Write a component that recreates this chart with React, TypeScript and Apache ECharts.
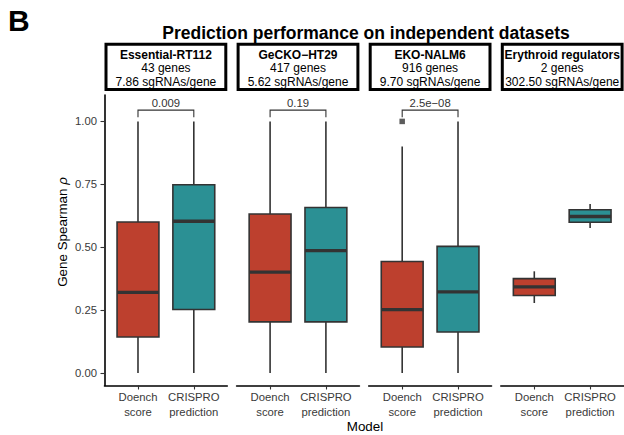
import React, { useEffect, useRef } from "react";
import * as echarts from "echarts";

// Facet strips
const datasetNames = ["Essential-RT112", "GeCKO\u2212HT29", "EKO-NALM6", "Erythroid regulators"];
const geneCounts = [43, 417, 916, 2];
const sgRNAsPerGene = ["7.86", "5.62", "9.70", "302.50"];

// Models on the x axis
const modelLabels = ["Doench\nscore", "CRISPRO\nprediction"];
const boxColors = ["#BD402E", "#2B9094"];

// Box statistics per dataset: [lower whisker, Q1, median, Q3, upper whisker]
const doenchStats = [
  [0.0, 0.143, 0.32, 0.6, 1.0],
  [0.0, 0.203, 0.401, 0.632, 1.0],
  [0.0, 0.103, 0.252, 0.443, 0.9],
  [0.278, 0.308, 0.342, 0.375, 0.404],
];
const crisproStats = [
  [0.0, 0.252, 0.603, 0.748, 1.0],
  [0.0, 0.203, 0.486, 0.658, 1.0],
  [0.0, 0.163, 0.322, 0.503, 1.0],
  [0.576, 0.599, 0.622, 0.649, 0.672],
];
const doenchOutliers = [[], [], [1.0], []];

// Wilcoxon p-values between the two models (none for the last dataset)
const pValues = ["0.009", "0.19", "2.5e\u221208", null];
const bracketTop = 1.045;
const bracketLeg = 1.017;

const yTicks = [0, 0.25, 0.5, 0.75, 1.0];
const xTicks = [0, 1];

const FONT = '"Liberation Sans", Arial, Helvetica, sans-serif';
const INK = "#333333";

const panelLeft0 = 104.5;
const panelStep = 132.1;
const panelWidth = 122.8;
const panelTop = 95;
const panelHeight = 290.5;

function renderBox(_params: any, api: any) {
  const m = api.value(0);
  const low = api.value(1);
  const q1 = api.value(2);
  const med = api.value(3);
  const q3 = api.value(4);
  const high = api.value(5);
  const x = api.coord([m, med])[0];
  const w = api.size([0.75, 0])[0];
  const yOf = (v: number) => api.coord([m, v])[1];
  const lineStyle = { stroke: INK, lineWidth: 1.6 };
  return {
    type: "group",
    children: [
      { type: "line", shape: { x1: x, y1: yOf(high), x2: x, y2: yOf(q3) }, style: lineStyle },
      { type: "line", shape: { x1: x, y1: yOf(q1), x2: x, y2: yOf(low) }, style: lineStyle },
      {
        type: "rect",
        shape: { x: x - w / 2, y: yOf(q3), width: w, height: yOf(q1) - yOf(q3) },
        style: { fill: boxColors[m], stroke: INK, lineWidth: 1.6 },
      },
      {
        type: "line",
        shape: { x1: x - w / 2, y1: yOf(med), x2: x + w / 2, y2: yOf(med) },
        style: { stroke: INK, lineWidth: 3.3 },
      },
    ],
  };
}

function makeBracketRenderer(label: string) {
  return (_params: any, api: any) => {
    const a = api.value(0);
    const b = api.value(1);
    const top = api.value(2);
    const leg = api.value(3);
    const p1 = api.coord([a, leg]);
    const p2 = api.coord([a, top]);
    const p3 = api.coord([b, top]);
    const p4 = api.coord([b, leg]);
    const mid = api.coord([(a + b) / 2, top]);
    return {
      type: "group",
      children: [
        {
          type: "polyline",
          shape: { points: [p1, p2, p3, p4] },
          style: { stroke: INK, lineWidth: 1.1, fill: "none" },
        },
        {
          type: "text",
          x: mid[0],
          y: mid[1] - 7.5,
          style: {
            text: label,
            fontSize: 11.3,
            fontFamily: FONT,
            fill: INK,
            align: "center",
            verticalAlign: "middle",
          },
        },
      ],
    };
  };
}

export default function App() {
  const ref = useRef<HTMLDivElement>(null);

  useEffect(() => {
    if (!ref.current) return;
    const chart = echarts.init(ref.current, null, { renderer: "svg" });

    const grids: any[] = [];
    const xAxes: any[] = [];
    const yAxes: any[] = [];
    const series: any[] = [];
    const graphics: any[] = [];

    datasetNames.forEach((name, i) => {
      const left = panelLeft0 + panelStep * i;
      grids.push({
        left,
        top: panelTop,
        width: panelWidth,
        height: panelHeight,
        containLabel: false,
        outerBoundsMode: "none",
      });
      xAxes.push({
        type: "value",
        gridIndex: i,
        min: -0.6,
        max: 1.6,
        splitLine: { show: false },
        axisLine: { show: true, onZero: false, lineStyle: { color: "#000", width: 1.6 } },
        axisTick: {
          show: true,
          customValues: xTicks,
          length: 4,
          lineStyle: { color: INK, width: 1.1 },
        },
        axisLabel: {
          show: true,
          customValues: xTicks,
          formatter: (v: number) => modelLabels[Math.round(v)],
          fontSize: 11.3,
          lineHeight: 14.4,
          color: "#3a3a3a",
          fontFamily: FONT,
          margin: 4.6,
        },
      });
      yAxes.push({
        type: "value",
        gridIndex: i,
        min: -0.05,
        max: 1.105,
        splitLine: { show: false },
        axisLine: { show: i === 0, onZero: false, lineStyle: { color: "#000", width: 1.6 } },
        axisTick: {
          show: i === 0,
          customValues: yTicks,
          length: 4,
          lineStyle: { color: INK, width: 1.1 },
        },
        axisLabel: {
          show: i === 0,
          customValues: yTicks,
          formatter: (v: number) => v.toFixed(2),
          fontSize: 11.3,
          color: "#3a3a3a",
          fontFamily: FONT,
          margin: 7.5,
        },
      });

      series.push({
        type: "custom",
        name: name,
        xAxisIndex: i,
        yAxisIndex: i,
        renderItem: renderBox,
        clip: false,
        data: [
          [0, ...doenchStats[i]],
          [1, ...crisproStats[i]],
        ],
      });

      if (doenchOutliers[i].length) {
        series.push({
          type: "scatter",
          xAxisIndex: i,
          yAxisIndex: i,
          symbol: "rect",
          symbolSize: 5.5,
          itemStyle: { color: INK },
          data: doenchOutliers[i].map((v) => [0, v]),
        });
      }

      const p = pValues[i];
      if (p) {
        series.push({
          type: "custom",
          xAxisIndex: i,
          yAxisIndex: i,
          clip: false,
          renderItem: makeBracketRenderer(p),
          data: [[0, 1, bracketTop, bracketLeg]],
        });
      }

      // Facet strip
      const cx = left + panelWidth / 2;
      graphics.push({
        type: "rect",
        shape: { x: left + 1.5, y: 44.2, width: panelWidth - 3, height: 45.3 },
        style: { fill: "#fff", stroke: "#000", lineWidth: 3 },
      });
      const lines = [name, `${geneCounts[i]} genes`, `${sgRNAsPerGene[i]} sgRNAs/gene`];
      const ys = [55, 68.3, 81.6];
      lines.forEach((t, k) => {
        graphics.push({
          type: "text",
          x: cx,
          y: ys[k],
          style: {
            text: t,
            fontSize: 12,
            fontWeight: k === 0 ? "bold" : "normal",
            fontFamily: FONT,
            fill: "#000",
            align: "center",
            verticalAlign: "middle",
          },
        });
      });
    });

    graphics.push(
      {
        type: "text",
        x: 8,
        y: 20.5,
        style: {
          text: "B",
          fontSize: 30,
          fontWeight: "bold",
          fontFamily: FONT,
          fill: "#000",
          align: "left",
          verticalAlign: "middle",
        },
      },
      {
        type: "text",
        x: 366,
        y: 32.9,
        style: {
          text: "Prediction performance on independent datasets",
          fontSize: 17.5,
          fontWeight: "bold",
          fontFamily: FONT,
          fill: "#000",
          align: "center",
          verticalAlign: "middle",
        },
      },
      {
        type: "text",
        x: 62.7,
        y: 232,
        rotation: Math.PI / 2,
        style: {
          text: "Gene Spearman {i|\u03C1}",
          rich: { i: { fontStyle: "italic", fontSize: 13.4, fontFamily: FONT, fill: "#000" } },
          fontSize: 13.4,
          fontFamily: FONT,
          fill: "#000",
          align: "center",
          verticalAlign: "middle",
        },
      },
      {
        type: "text",
        x: 365,
        y: 426.7,
        style: {
          text: "Model",
          fontSize: 13.4,
          fontFamily: FONT,
          fill: "#000",
          align: "center",
          verticalAlign: "middle",
        },
      }
    );

    chart.setOption({
      animation: false,
      backgroundColor: "#ffffff",
      grid: grids,
      xAxis: xAxes,
      yAxis: yAxes,
      series,
      graphic: graphics,
    });

    return () => chart.dispose();
  }, []);

  return (
    <div
      ref={ref}
      style={{ position: "fixed", left: 0, top: 0, width: 624, height: 435, background: "#fff" }}
    />
  );
}
